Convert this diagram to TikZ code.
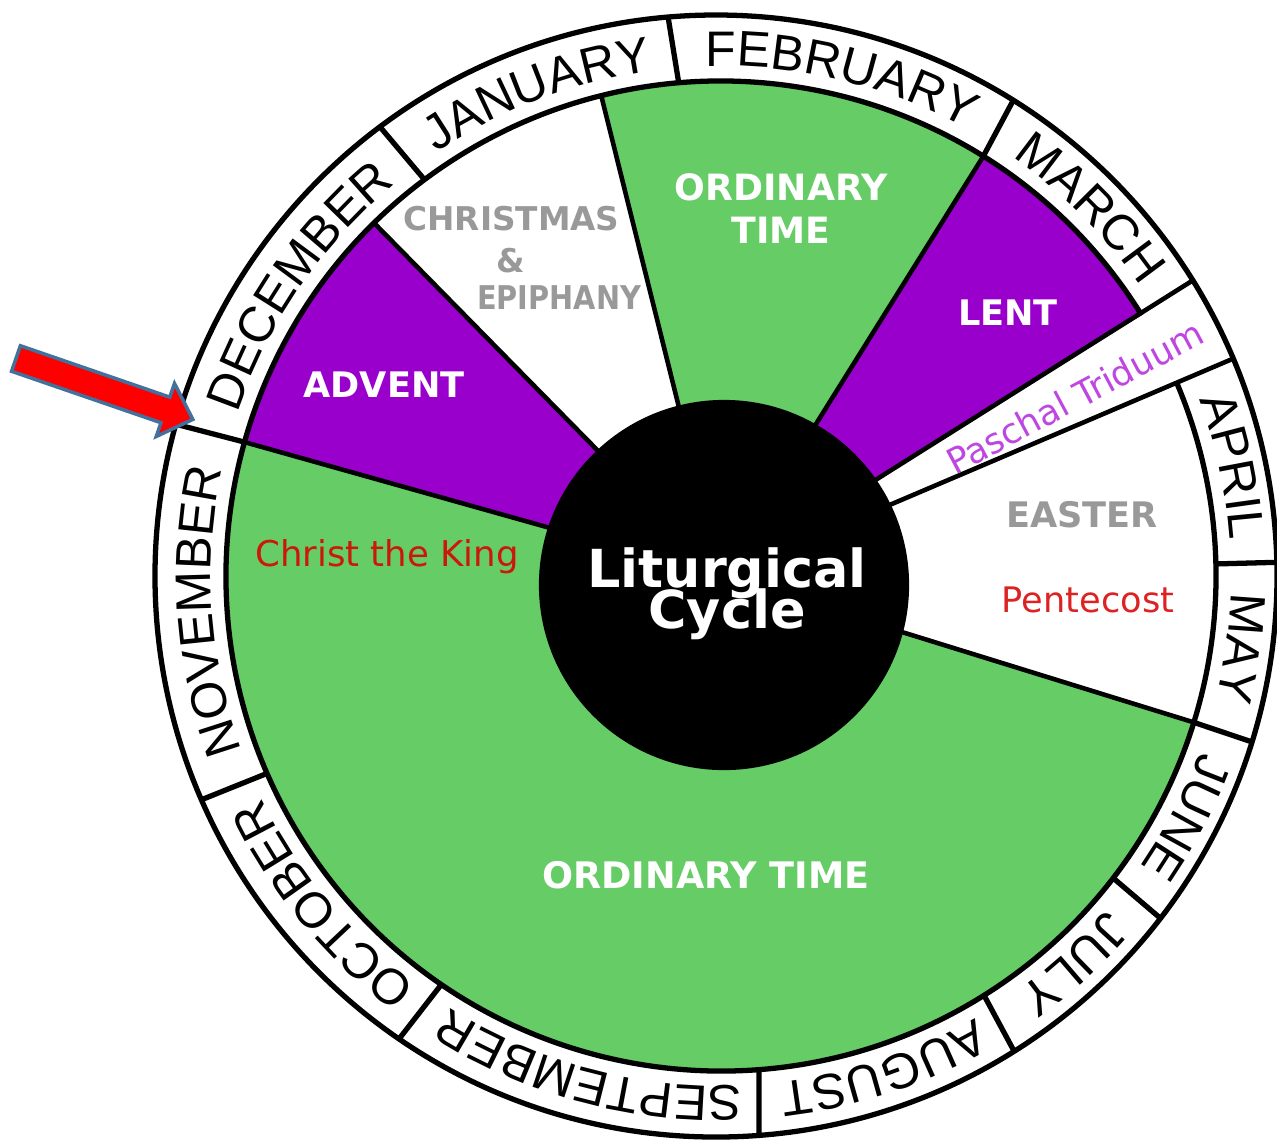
\documentclass[tikz,border=0pt]{standalone}
\usepackage{fontspec}
\setmainfont{DejaVu Sans}
\newfontfamily\monthfam{Liberation Sans}
\usetikzlibrary{decorations.text}
\definecolor{otgreen}{RGB}{102,204,102}
\definecolor{lentpurple}{RGB}{153,0,204}
\definecolor{feastgray}{RGB}{153,153,153}
\definecolor{kingred}{RGB}{204,24,10}
\definecolor{pentred}{RGB}{221,34,34}
\definecolor{triduumpink}{RGB}{190,70,225}
\definecolor{arrowedge}{RGB}{65,113,156}
\newcommand{\monthfont}{\monthfam\fontsize{14.2}{14.2}\selectfont}

\begin{document}
\begin{tikzpicture}[x=0.01cm, y=0.01cm, season/.style={font=\bfseries\fontsize{10}{12}\selectfont, text=white, inner sep=0pt, anchor=base}, feast/.style={font=\fontsize{10}{12}\selectfont, inner sep=0pt, anchor=base}, ring/.style={line width=1.5pt}, spoke/.style={line width=1.3pt}]
	\useasboundingbox[fill=white] (-721,-568) rectangle (556,576);
	% seasons of the year
	\fill[otgreen] (0,0) -- (164.3:495) arc[start angle=164.3, end angle=342.8, radius=495] -- cycle;
	\fill[lentpurple] (0,0) -- (134.5:495) arc[start angle=134.5, end angle=164.3, radius=495] -- cycle;
	\fill[otgreen] (0,0) -- (58:495) arc[start angle=58, end angle=104, radius=495] -- cycle;
	\fill[lentpurple] (0,0) -- (31.8:495) arc[start angle=31.8, end angle=58, radius=495] -- cycle;
	\foreach \a in {164.3,134.5,104,58,-17.2} {\draw[spoke] (\a:150) -- (\a:495);}
	\foreach \a in {31.8,22.8} {\draw[spoke] (\a:150) -- ([shift={(-5,0)}]\a:561);}
	% month ring
	\draw[ring] (-5,0) circle[radius=561];
	\draw[ring] (31.8:495) arc[start angle=31.8, end angle=382.8, radius=495];
	\foreach \a in {164.3,126.8,94.9,58,1.4,-17.2,-37.6,-57.9,-85.6,-124.4,-156.5} {\draw[ring] (\a:495) -- ([shift={(-5,0)}]\a:561);}
	\foreach \m/\a/\b in {NOVEMBER/203.5/164.3, DECEMBER/164.3/126.8, JANUARY/126.8/94.9, FEBRUARY/94.9/58, MARCH/58/31.8, APRIL/22.8/1.4, MAY/1.4/-17.2, JUNE/-17.2/-37.6, JULY/-37.6/-57.9, AUGUST/-57.9/-85.6, SEPTEMBER/-85.6/-124.4, OCTOBER/-124.4/-156.5} {
		\path[decorate, decoration={text along path, text align=center, text/.expanded={|\noexpand\monthfont|\m}}] (\a:510) arc[start angle=\a, end angle=\b, radius=510];
	}
	% hub
	\node[circle, fill=black, inner sep=0pt, minimum size=3.7cm] (hub) at (3,-9) {};
	\node[season, font=\bfseries\fontsize{14.9}{15}\selectfont] (lit) at (6,-11) {Liturgical};
	\node[season, font=\bfseries\fontsize{14.9}{15}\selectfont] (cyc) at (6,-52) {Cycle};
	% labels
	\node[season] (advent) at (-337,179) {ADVENT};
	\node[season, text=feastgray, font=\bfseries\fontsize{9.3}{12}\selectfont] (christmas) at (-209.5,346) {CHRISTMAS};
	\node[season, text=feastgray, font=\bfseries\fontsize{9.3}{12}\selectfont] (and) at (-210,304) {\&};
	\node[season, text=feastgray, font=\bfseries\fontsize{9.3}{12}\selectfont, xscale=0.88] (epiphany) at (-162,267) {EPIPHANY};
	\node[season, font=\bfseries\fontsize{10.3}{12}\selectfont] (ordtop) at (60,376) {ORDINARY};
	\node[season, font=\bfseries\fontsize{10.3}{12}\selectfont] (timetop) at (60,333) {TIME};
	\node[season] (lent) at (287,251) {LENT};
	\node[feast, text=triduumpink, rotate=28, anchor=center] (triduum) at (354,179) {Paschal Triduum};
	\node[season, text=feastgray] (easter) at (361,49) {EASTER};
	\node[feast, text=pentred] (pentecost) at (367,-36) {Pentecost};
	\node[feast, text=kingred, font=\fontsize{10.1}{12}\selectfont] (king) at (-334,10) {Christ the King};
	\node[season, font=\bfseries\fontsize{10.4}{12}\selectfont] (ordbottom) at (-15,-312) {ORDINARY TIME};
	% pointer
	\begin{scope}[shift={(-705,217.5)}, rotate=-19]
		\filldraw[fill=red, draw=arrowedge, line width=1pt] (0,13.5) -- (158,13.5) -- (158,28) -- (187,0) -- (158,-28) -- (158,-13.5) -- (0,-13.5) -- cycle;
	\end{scope}
\end{tikzpicture}
\end{document}
